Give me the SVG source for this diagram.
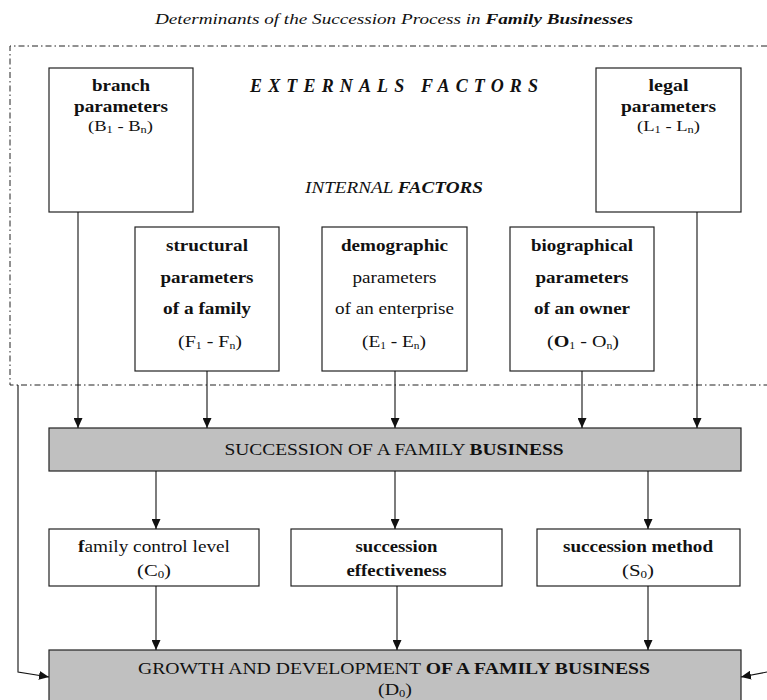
<svg xmlns="http://www.w3.org/2000/svg" width="767" height="700" viewBox="0 0 767 700">
<defs>
<marker id="ah" markerUnits="userSpaceOnUse" markerWidth="10" markerHeight="9" refX="10" refY="4.5" orient="auto">
<path d="M0,0 L10,4.5 L0,9 z" fill="#111"/>
</marker>
<style>
text{font-family:"Liberation Serif","Times New Roman",serif;fill:#111;text-anchor:middle}
.b{font-weight:bold}
.i{font-style:italic}
.box{fill:#fff;stroke:#222;stroke-width:1.2}
.gray{fill:#c0c0c0;stroke:#222;stroke-width:1.2}
.ln{fill:none;stroke:#111;stroke-width:1.1}
.dd{fill:none;stroke:#222;stroke-width:1;stroke-dasharray:6 3 1.5 3}
.t17{font-size:17px}
.t16{font-size:16px}
.t15{font-size:15px}
.sub{font-size:10px}
</style>
</defs>
<rect width="767" height="700" fill="#fff"/>

<text id="title" class="i" x="394" y="24" font-size="15" textLength="478" lengthAdjust="spacingAndGlyphs">Determinants of the Succession Process in <tspan class="b">Family Businesses</tspan></text>

<path id="external-region" class="dd" d="M767,46 H10 V385 H767"/>

<text id="externals" class="b i" x="394" y="92" font-size="18" textLength="288" lengthAdjust="spacing">EXTERNALS  FACTORS</text>
<text id="internals" class="i" x="394" y="193" font-size="17" textLength="178" lengthAdjust="spacingAndGlyphs">INTERNAL <tspan class="b">FACTORS</tspan></text>

<g id="branch">
<rect class="box" x="49" y="68" width="144" height="144"/>
<text class="b t17" x="121" y="91" textLength="58" lengthAdjust="spacingAndGlyphs">branch</text>
<text class="b t17" x="121" y="112" textLength="94" lengthAdjust="spacingAndGlyphs">parameters</text>
<text class="t15" x="120.5" y="131" textLength="65" lengthAdjust="spacingAndGlyphs">(B<tspan class="sub" dy="2">1</tspan><tspan dy="-2"> - B</tspan><tspan class="sub" dy="2">n</tspan><tspan dy="-2">)</tspan></text>
</g>

<g id="legal">
<rect class="box" x="596" y="68" width="145" height="144"/>
<text class="b t17" x="668.5" y="91" textLength="40" lengthAdjust="spacingAndGlyphs">legal</text>
<text class="b t17" x="668.5" y="112" textLength="95" lengthAdjust="spacingAndGlyphs">parameters</text>
<text class="t15" x="668.5" y="131" textLength="63" lengthAdjust="spacingAndGlyphs">(L<tspan class="sub" dy="2">1</tspan><tspan dy="-2"> - L</tspan><tspan class="sub" dy="2">n</tspan><tspan dy="-2">)</tspan></text>
</g>

<g id="structural">
<rect class="box" x="135" y="227" width="144" height="144"/>
<text class="b t17" x="207" y="251" textLength="82" lengthAdjust="spacingAndGlyphs">structural</text>
<text class="b t17" x="207" y="283" textLength="93" lengthAdjust="spacingAndGlyphs">parameters</text>
<text class="b t17" x="207" y="314" textLength="88" lengthAdjust="spacingAndGlyphs">of a family</text>
<text class="t17" x="210" y="347" textLength="64" lengthAdjust="spacingAndGlyphs">(F<tspan class="sub" dy="2">1</tspan><tspan dy="-2"> - F</tspan><tspan class="sub" dy="2">n</tspan><tspan dy="-2">)</tspan></text>
</g>

<g id="demographic">
<rect class="box" x="322" y="227" width="145" height="144"/>
<text class="b t17" x="394.5" y="251" textLength="107" lengthAdjust="spacingAndGlyphs">demographic</text>
<text class="t17" x="394.5" y="283" textLength="84" lengthAdjust="spacingAndGlyphs">parameters</text>
<text class="t17" x="394.5" y="314" textLength="119" lengthAdjust="spacingAndGlyphs">of an enterprise</text>
<text class="t17" x="394" y="347" textLength="64" lengthAdjust="spacingAndGlyphs">(E<tspan class="sub" dy="2">1</tspan><tspan dy="-2"> - E</tspan><tspan class="sub" dy="2">n</tspan><tspan dy="-2">)</tspan></text>
</g>

<g id="biographical">
<rect class="box" x="510" y="227" width="144" height="144"/>
<text class="b t17" x="582" y="251" textLength="102" lengthAdjust="spacingAndGlyphs">biographical</text>
<text class="b t17" x="582" y="283" textLength="93" lengthAdjust="spacingAndGlyphs">parameters</text>
<text class="b t17" x="582" y="314" textLength="96" lengthAdjust="spacingAndGlyphs">of an owner</text>
<text class="t17" x="583" y="347" textLength="72" lengthAdjust="spacingAndGlyphs">(<tspan class="b">O</tspan><tspan class="sub" dy="2">1</tspan><tspan dy="-2"> - O</tspan><tspan class="sub" dy="2">n</tspan><tspan dy="-2">)</tspan></text>
</g>

<g id="succession">
<rect class="gray" x="49" y="428" width="692" height="43"/>
<text class="t16" x="394" y="455" textLength="339" lengthAdjust="spacingAndGlyphs">SUCCESSION OF A FAMILY <tspan class="b">BUSINESS</tspan></text>
</g>

<g id="control">
<rect class="box" x="49" y="529" width="210" height="57"/>
<text class="t16" x="154" y="552" textLength="152" lengthAdjust="spacingAndGlyphs"><tspan class="b">f</tspan>amily control level</text>
<text class="t16" x="154" y="576" textLength="34" lengthAdjust="spacingAndGlyphs">(C<tspan class="sub" dy="2">0</tspan><tspan dy="-2">)</tspan></text>
</g>

<g id="effectiveness">
<rect class="box" x="291" y="529" width="211" height="57"/>
<text class="b t16" x="396.5" y="552" textLength="82" lengthAdjust="spacingAndGlyphs">succession</text>
<text class="b t16" x="396.5" y="576" textLength="100" lengthAdjust="spacingAndGlyphs">effectiveness</text>
</g>

<g id="method">
<rect class="box" x="537" y="529" width="203" height="57"/>
<text class="b t16" x="638" y="552" textLength="150" lengthAdjust="spacingAndGlyphs">succession method</text>
<text class="t16" x="638" y="576" textLength="32" lengthAdjust="spacingAndGlyphs">(S<tspan class="sub" dy="2">0</tspan><tspan dy="-2">)</tspan></text>
</g>

<g id="growth">
<rect class="gray" x="49" y="650" width="692" height="60"/>
<text class="t16" x="394" y="674" textLength="512" lengthAdjust="spacingAndGlyphs">GROWTH AND DEVELOPMENT  <tspan class="b">OF A FAMILY BUSINESS</tspan></text>
<text class="t16" x="395" y="695" textLength="34" lengthAdjust="spacingAndGlyphs">(D<tspan class="sub" dy="2">0</tspan><tspan dy="-2">)</tspan></text>
</g>

<g id="connectors">
<path class="ln" d="M78,212 V428" marker-end="url(#ah)"/>
<path class="ln" d="M207,371 V428" marker-end="url(#ah)"/>
<path class="ln" d="M395,371 V428" marker-end="url(#ah)"/>
<path class="ln" d="M582,371 V428" marker-end="url(#ah)"/>
<path class="ln" d="M697,212 V428" marker-end="url(#ah)"/>
<path class="ln" d="M156,471 V529" marker-end="url(#ah)"/>
<path class="ln" d="M395,471 V529" marker-end="url(#ah)"/>
<path class="ln" d="M648,471 V529" marker-end="url(#ah)"/>
<path class="ln" d="M156,586 V650" marker-end="url(#ah)"/>
<path class="ln" d="M397,586 V650" marker-end="url(#ah)"/>
<path class="ln" d="M648,586 V650" marker-end="url(#ah)"/>
<path class="ln" d="M18,385 V672 L49,677" marker-end="url(#ah)"/>
<path class="ln" d="M767,672 L741,677" marker-end="url(#ah)"/>
</g>
</svg>
